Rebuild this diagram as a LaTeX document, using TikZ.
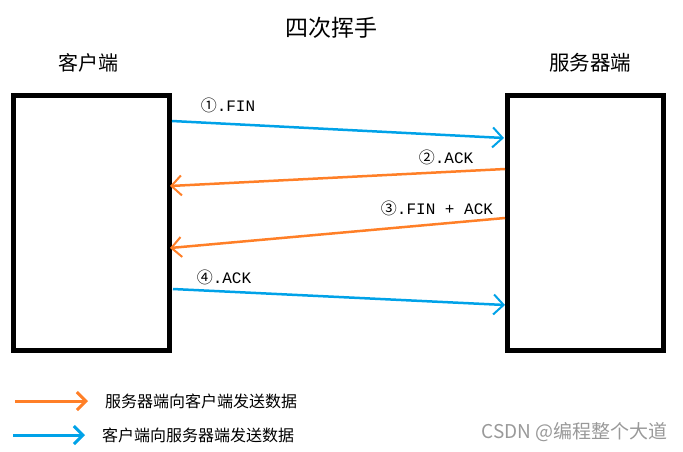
\documentclass[tikz,border=0pt]{standalone}
\usepackage{fontspec}
\newfontfamily\cjk{Noto Sans CJK SC}
\setmonofont{Liberation Mono}
\usetikzlibrary{arrows.meta}
\definecolor{sendblue}{RGB}{0,162,232}
\definecolor{sendorange}{RGB}{255,127,39}

\begin{document}
\begin{tikzpicture}[x=1pt, y=-1pt,
box/.style={draw, line width=5pt, minimum width=156pt, minimum height=255pt, inner sep=0pt},
msg/.style={line width=2.5pt, -{Straight Barb[length=10pt, width=20pt, line width=2pt]}},
key/.style={line width=3pt, -{Straight Barb[length=9pt, width=18pt, line width=3pt]}},
lbl/.style={inner sep=0pt, font=\fontsize{16}{16}\selectfont\ttfamily},
txt/.style={inner sep=0pt, font=\fontsize{16}{16}\selectfont\cjk}]

\useasboundingbox (0,0) rectangle (683,451);

\node (title) [txt, font=\fontsize{23}{23}\selectfont\cjk] at (331,28) {四次挥手};
\node (clientname) [txt, font=\fontsize{20}{20}\selectfont\cjk] at (88,63) {客户端};
\node (servername) [txt, font=\fontsize{20.5}{20.5}\selectfont\cjk] at (590,63) {服务器端};

\node (client) [box] at (91,222.5) {};
\node (server) [box] at (585.25,222.5) {};

% message end points on the box edges
\coordinate (c1) at (172,121);
\coordinate (s1) at (504,138);
\coordinate (s2) at (505,169);
\coordinate (c2) at (170,186);
\coordinate (s3) at (505,218);
\coordinate (c3) at (170,248);
\coordinate (c4) at (173,289);
\coordinate (s4) at (505,305);

\draw[msg, sendblue] (c1) -- (s1);
\draw[msg, sendorange] (s2) -- (c2);
\draw[msg, sendorange] (s3) -- (c3);
\draw[msg, sendblue] (c4) -- (s4);

\node (fin) [lbl] at (228,105) {{\cjk ①}.FIN};
\node (ack) [lbl] at (446,157) {{\cjk ②}.ACK};
\node (finack) [lbl] at (437,208) {{\cjk ③}.FIN + ACK};
\node (lastack) [lbl] at (224,277) {{\cjk ④}.ACK};

% legend
\coordinate (o1) at (15,401);
\coordinate (o2) at (88,401);
\coordinate (b1) at (13,435);
\coordinate (b2) at (85,435);
\draw[key, sendorange] (o1) -- (o2);
\draw[key, sendblue] (b1) -- (b2);
\node (tocli) [txt, anchor=west] at (105,401) {服务器端向客户端发送数据};
\node (toserv) [txt, anchor=west] at (102,435) {客户端向服务器端发送数据};

\node (mark) [txt, font=\fontsize{19}{19}\selectfont\cjk, text=black!40, anchor=east] at (668,432) {CSDN @编程整个大道};

\end{tikzpicture}
\end{document}
